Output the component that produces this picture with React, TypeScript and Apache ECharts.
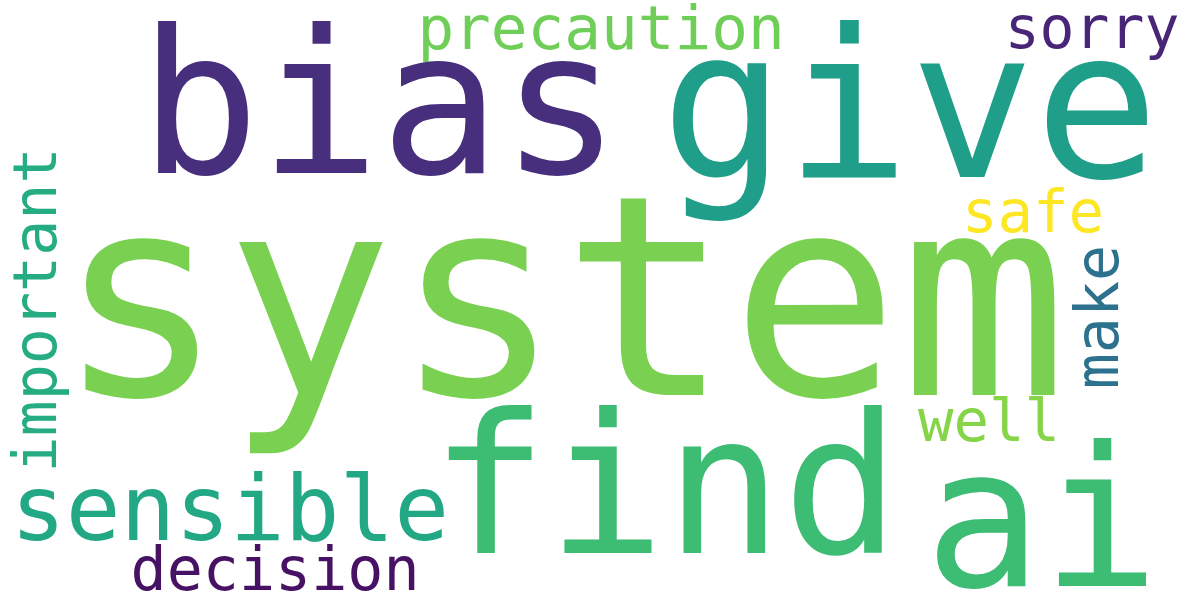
import React, { useEffect, useRef } from 'react';
import * as echarts from 'echarts';

// word cloud laid out on a 1200x600 value plane (x, y = text centre)
const words = ['system', 'bias', 'give', 'find', 'ai', 'sensible', 'decision', 'precaution', 'sorry', 'safe', 'well', 'make', 'important'];
const sizes = [280, 200, 207, 195, 195, 91, 60, 61, 58, 59, 59, 60, 60];
const xs = [562, 380, 910, 665, 1042, 230, 275, 601, 1092, 1033, 989, 1097, 35];
const ys = [298, 103, 105, 485, 518, 508, 569, 27, 28, 211, 420, 317, 310];
const rotations = [0, 0, 0, 0, 0, 0, 0, 0, 0, 0, 0, 90, 90];
const colors = ['#7ad151', '#472f7d', '#1f9e89', '#3dbc74', '#3dbc74', '#22a884', '#471164', '#6ece58', '#482576', '#fde725', '#86d549', '#2c728e', '#25ac82'];

const App: React.FC = () => {
  const chartRef = useRef<HTMLDivElement>(null);

  useEffect(() => {
    if (!chartRef.current) return;
    const chart = echarts.init(chartRef.current, undefined, { renderer: 'svg' });

    const data = words.map((w, i) => ({
      name: w,
      value: [xs[i], ys[i]],
      label: {
        fontSize: sizes[i],
        color: colors[i],
        rotate: rotations[i],
      },
    }));

    chart.setOption({
      animation: false,
      backgroundColor: '#ffffff',
      grid: { left: 0, right: 0, top: 0, bottom: 0 },
      xAxis: { type: 'value', min: 0, max: 1200, show: false },
      yAxis: { type: 'value', min: 0, max: 600, inverse: true, show: false },
      series: [
        {
          type: 'scatter',
          symbolSize: 0,
          itemStyle: { opacity: 1 },
          emphasis: { disabled: true },
          data,
          label: {
            show: true,
            position: 'inside',
            formatter: '{b}',
            fontFamily: 'DejaVu Sans Mono',
            align: 'center',
            verticalAlign: 'middle',
            opacity: 1,
          },
        },
      ],
    });

    return () => chart.dispose();
  }, []);

  return (
    <div
      ref={chartRef}
      style={{ position: 'absolute', left: 0, top: 0, width: '1200px', height: '600px' }}
    />
  );
};

export default App;
